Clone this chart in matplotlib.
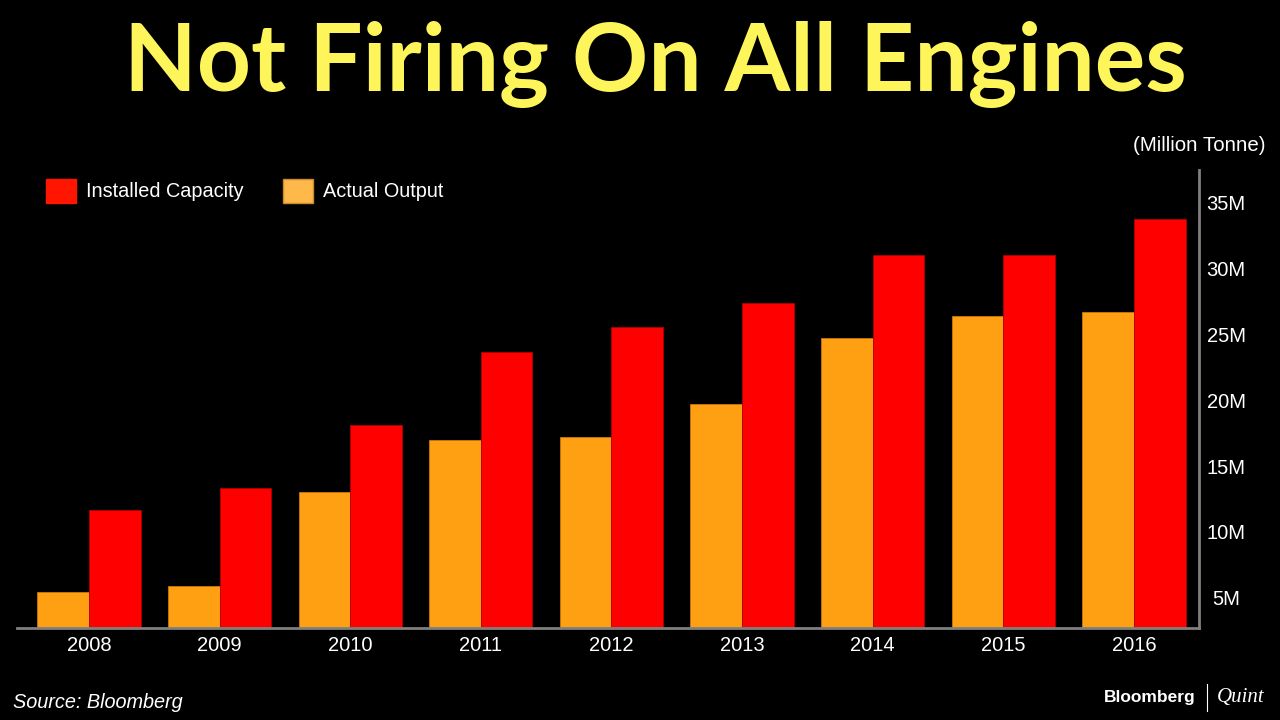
import matplotlib
matplotlib.use("Agg")
import matplotlib.pyplot as plt
from matplotlib.patches import Patch
import numpy as np

# --- data (million tonne) ---
years = ["2008", "2009", "2010", "2011", "2012", "2013", "2014", "2015", "2016"]
installed_capacity = [11.7, 13.3, 18.1, 23.7, 25.6, 27.4, 31.0, 31.0, 33.8]
actual_output = [5.4, 5.9, 13.0, 17.0, 17.2, 19.7, 24.7, 26.4, 26.7]
y_ticks = [5, 10, 15, 20, 25, 30, 35]
y_tick_labels = ["5M", "10M", "15M", "20M", "25M", "30M", "35M"]

RED = "#ff0000"
ORANGE = "#ff9f12"
GREY = "#7f7f7f"
YELLOW = "#fef55a"

plt.rcParams["font.family"] = ["Liberation Sans", "DejaVu Sans"]

fig = plt.figure(figsize=(12.8, 7.2), dpi=100, facecolor="black")
ax = fig.add_axes([0.0133, 0.1278, 0.9234, 0.6362], facecolor="black")

x = np.arange(len(years))
w = 0.395
ax.bar(x - w / 2, actual_output, width=w, color=ORANGE, edgecolor="#c87a0a",
       linewidth=0.6)
ax.bar(x + w / 2, installed_capacity, width=w, color=RED, edgecolor="#b00000",
       linewidth=0.6)

ax.set_xlim(-0.551, 8.498)
ax.set_ylim(2.7, 37.5)

# axis styling: only bottom and right lines
for side in ["top", "left"]:
    ax.spines[side].set_visible(False)
ax.spines["bottom"].set_color(GREY)
ax.spines["right"].set_color(GREY)
ax.spines["bottom"].set_linewidth(2)
ax.spines["right"].set_linewidth(2)

ax.yaxis.tick_right()
ax.set_yticks(y_ticks)
ax.set_yticklabels(y_tick_labels, ha="center")
ax.set_xticks(x)
ax.set_xticklabels(years)
ax.tick_params(axis="both", length=0, colors="white", labelsize=14.5)
ax.tick_params(axis="y", pad=19.5)
ax.tick_params(axis="x", pad=6)

# legend
handles = [Patch(facecolor="#ff1500", edgecolor="#ff1500"),
           Patch(facecolor="#ffb84a", edgecolor="#c88a2a")]
leg = ax.legend(handles, ["Installed Capacity", "Actual Output"], ncol=2,
                loc="upper left", bbox_to_anchor=(0.0093, 1.02), frameon=False,
                fontsize=14.3, labelcolor="white", handlelength=1.5,
                handleheight=1.5, handletextpad=0.5, columnspacing=2.0)

# title and annotations
fig.text(0.512, 0.873, "Not Firing On All Engines", color=YELLOW,
         fontsize=68, fontweight="bold", family=["Lato", "DejaVu Sans"],
         ha="center", va="baseline")
fig.text(0.989, 0.798, "(Million Tonne)", color="white", fontsize=14.8,
         ha="right", va="center")
fig.text(0.010, 0.025, "Source: Bloomberg", color="white", fontsize=14.3,
         style="italic", ha="left", va="center")

# logo
fig.text(0.934, 0.031, "Bloomberg", color="white", fontsize=12.5,
         fontweight="bold", ha="right", va="center")
fig.lines.append(plt.Line2D([0.943, 0.943], [0.012, 0.05], color="white",
                            linewidth=0.8, transform=fig.transFigure))
fig.text(0.951, 0.031, "Quint", color="white", fontsize=15, style="italic",
         family=["Liberation Serif", "DejaVu Serif"], ha="left", va="center")

fig.savefig("out.png", dpi=100, facecolor="black")
